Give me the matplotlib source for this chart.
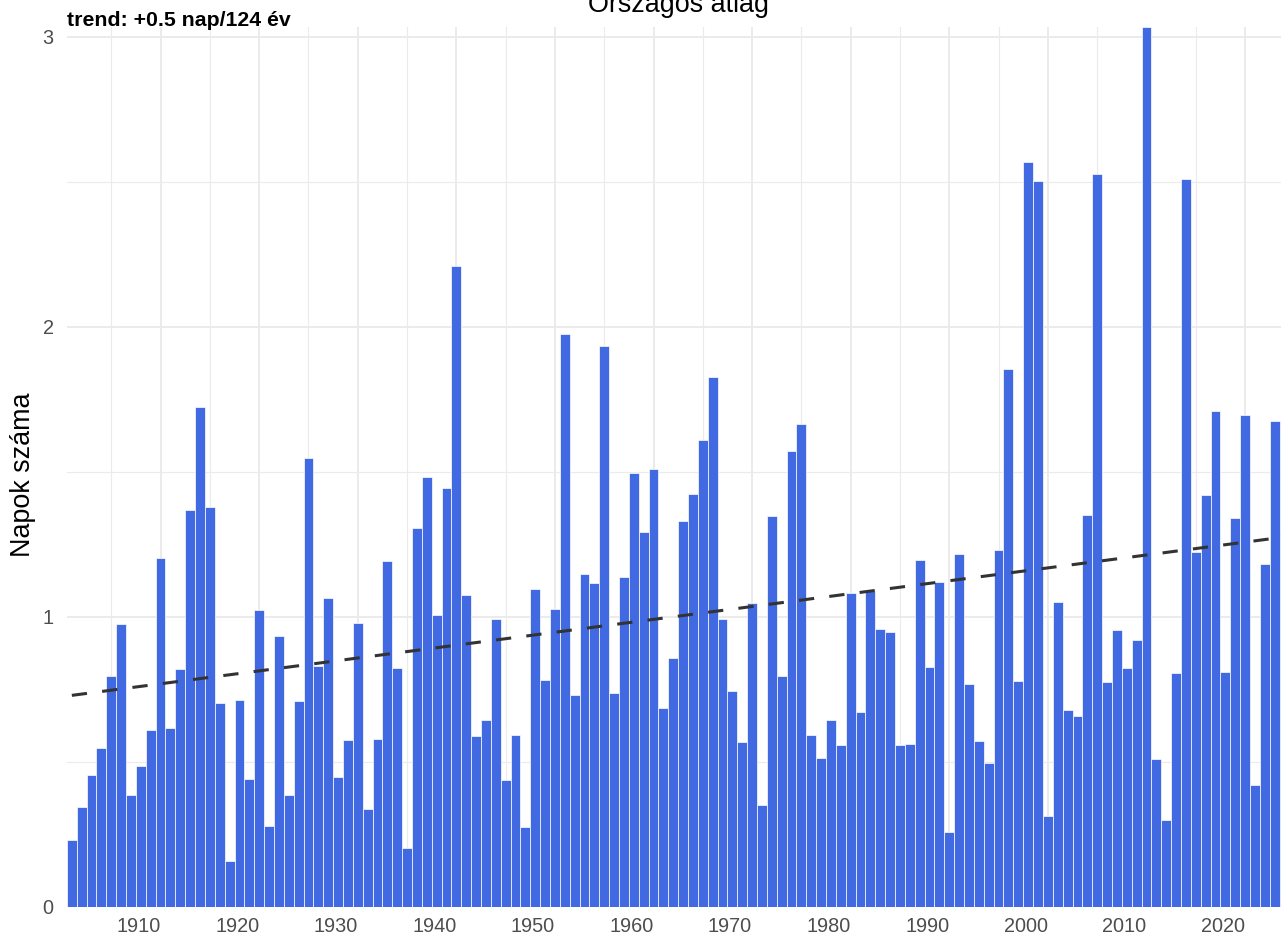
import numpy as np
import matplotlib
matplotlib.use('Agg')
import matplotlib.pyplot as plt

plt.rcParams['font.family'] = ['Liberation Sans', 'DejaVu Sans']

# országos átlag, napok száma évente
years = list(range(1901, 2025))
napok = [
    0.231, 0.346, 0.454, 0.549, 0.797, 0.974, 0.386, 0.486, 0.611, 1.203,
    0.617, 0.820, 1.368, 1.723, 1.377, 0.702, 0.158, 0.712, 0.440, 1.022,
    0.280, 0.935, 0.386, 0.711, 1.549, 0.832, 1.066, 0.448, 0.574, 0.978,
    0.338, 0.578, 1.194, 0.823, 0.203, 1.306, 1.483, 1.005, 1.445, 2.209,
    1.075, 0.591, 0.645, 0.991, 0.438, 0.592, 0.275, 1.097, 0.783, 1.026,
    1.974, 0.729, 1.149, 1.115, 1.932, 0.738, 1.138, 1.495, 1.294, 1.509,
    0.685, 0.857, 1.329, 1.425, 1.609, 1.828, 0.994, 0.744, 0.569, 1.047,
    0.352, 1.348, 0.795, 1.571, 1.665, 0.593, 0.515, 0.646, 0.560, 1.082,
    0.673, 1.088, 0.959, 0.947, 0.560, 0.562, 1.196, 0.826, 1.121, 0.258,
    1.217, 0.767, 0.573, 0.497, 1.231, 1.855, 0.779, 2.569, 2.503, 0.315,
    1.051, 0.679, 0.658, 1.352, 2.526, 0.775, 0.953, 0.824, 0.920, 3.033,
    0.509, 0.301, 0.806, 2.509, 1.225, 1.421, 1.710, 0.810, 1.342, 1.697,
    0.419, 1.182, 1.675, 1.301,
]

title = 'Országos átlag'
subtitle = 'trend: +0.5 nap/124 év'
ylabel = 'Napok száma'
major_x = list(range(1910, 2030, 10))
minor_x = list(range(1905, 2025, 10))
major_y = [0, 1, 2, 3]
minor_y = [0.5, 1.5, 2.5]

W, H = 1281, 942
fig = plt.figure(figsize=(W / 100, H / 100), dpi=100)
# panel runs past the right edge (cropped original)
ax = fig.add_axes([66.9 / W, 35 / H, 1222.5 / W, 880 / H])

ax.bar(years, napok, width=1.0, color='#4169E1', edgecolor='white',
       linewidth=0.5, zorder=2)

# linear trend
slope, icpt = np.polyfit(years, napok, 1)
yr = np.array([years[0], years[-1]])
ax.plot(yr, slope * yr + icpt, color='#333333', lw=2.2, dashes=(5, 5),
        zorder=3)

ax.set_xlim(years[0] - 0.5, years[-1] + 0.5)
ax.set_ylim(0, max(napok))

ax.set_xticks(major_x)
ax.set_xticks(minor_x, minor=True)
ax.set_yticks(major_y)
ax.set_yticks(minor_y, minor=True)
ax.set_xticklabels([str(y) for y in major_x], ha='right')
ax.tick_params(which='both', length=0, labelsize=14.3, labelcolor='#4D4D4D')
ax.tick_params(axis='x', pad=7)
ax.tick_params(axis='y', pad=9.5)

ax.grid(which='major', color='#EBEBEB', lw=1.4)
ax.grid(which='minor', color='#EBEBEB', lw=0.8)
ax.set_axisbelow(True)
for s in ax.spines.values():
    s.set_visible(False)

pos = ax.get_position()
fig.text(pos.x0 + pos.width / 2, 1 - 11.7 / H, title, ha='center',
         va='baseline', fontsize=19.4)
fig.text(pos.x0, 1 - 26 / H, subtitle, ha='left', va='baseline',
         fontsize=15.3, fontweight='bold')
fig.text(22.7 / W, 467 / H, ylabel, rotation=90, ha='center', va='center',
         fontsize=19.4)

fig.savefig('out.png', dpi=100)
